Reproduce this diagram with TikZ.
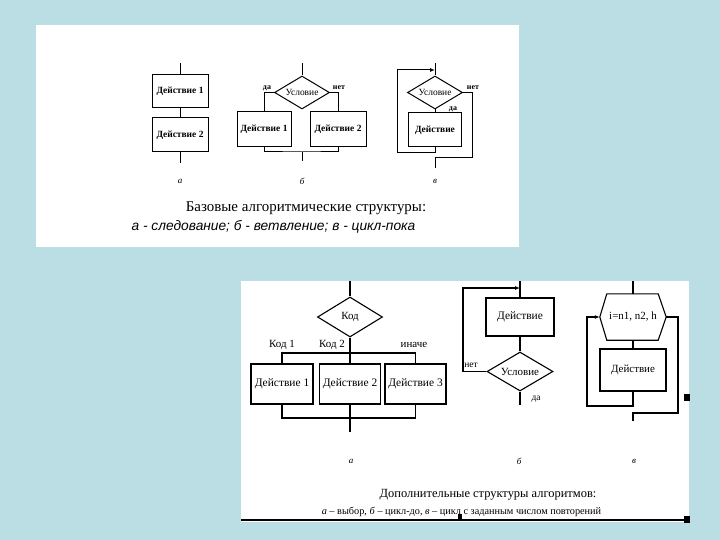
\documentclass[tikz,border=0pt]{standalone}
\usepackage{fontspec}
\setmainfont{Liberation Serif}
\newfontfamily\capsans{Liberation Sans}
\usetikzlibrary{shapes.geometric,arrows.meta,calc}
\definecolor{bgblue}{RGB}{186,222,228}
\begin{document}
\begin{tikzpicture}[x=1bp,y=-1bp,
  tline/.style={line width=1bp,draw=black},
  bline/.style={line width=1.1bp,draw=black},
  tbox/.style={tline,rectangle,inner sep=0pt,minimum width=56bp,minimum height=33bp,
    font=\fontsize{9.5}{10}\selectfont\bfseries},
  tdia/.style={tline,diamond,inner sep=0pt,aspect=1.6,minimum width=55bp,minimum height=33bp,
    font=\fontsize{9.5}{10}\selectfont},
  tsmall/.style={inner sep=0pt,font=\fontsize{8}{9}\selectfont\bfseries},
  sublab/.style={inner sep=0pt,font=\fontsize{9}{10}\selectfont\itshape},
  bbox/.style={bline,rectangle,inner sep=0pt,minimum height=40bp,
    font=\fontsize{11.5}{12}\selectfont},
  bdia/.style={bline,diamond,inner sep=0pt,aspect=1.6,
    font=\fontsize{11}{12}\selectfont},
  blab/.style={inner sep=0pt,font=\fontsize{11}{12}\selectfont},
  bsmall/.style={inner sep=0pt,font=\fontsize{9.5}{10}\selectfont},
  tip/.style={-{Latex[length=5pt,width=4pt]}}
]
% background and panels
\fill[bgblue] (0,0) rectangle (720,540);
\useasboundingbox (0,0) rectangle (720,540);
\fill[white] (36,25) rectangle (519,247);
\fill[white] (241,281) rectangle (689,522);

% ---------- top a: sequence ----------
\coordinate (a0) at (180,63);
\node[tbox] (a1) at (180,91.5) {Действие 1};
\node[tbox,minimum height=34bp] (a2) at (180,135) {Действие 2};
\coordinate (a3) at (180,163);
\draw[tline] (a0) -- (a1);
\draw[tline] (a1) -- (a2);
\draw[tline] (a2) -- (a3);

% ---------- top b: branching ----------
\coordinate (b0) at (302,63);
\node[tdia] (bd) at (302,92.5) {Условие};
\node[tbox,minimum width=54bp,minimum height=35bp] (b1) at (264,129.5) {Действие 1};
\node[tbox,minimum width=56bp,minimum height=35bp] (b2) at (338,129.5) {Действие 2};
\coordinate (bj) at (302,152);
\coordinate (b3) at (302,161);
\draw[tline] (b0) -- (bd);
\draw[tline] (bd.west) -| (b1.north);
\draw[tline] (bd.east) -| (b2.north);
\draw[tline] (b1.south) |- (bj) -| (b2.south);
\draw[tline] (bj) -- (b3);
\node[tsmall] (bda) at (267,88) {да};
\node[tsmall] (bnet) at (339,88) {нет};

% ---------- top c: while loop ----------
\coordinate (c0) at (435,63);
\node[tdia] (cd) at (435,92.5) {Условие};
\node[tbox,minimum width=53bp,minimum height=34bp] (c1) at (435,130) {Действие};
\coordinate (cr) at (472,158);
\coordinate (cj) at (435,158);
\coordinate (c3) at (435,168);
\coordinate (cb) at (435,153);
\coordinate (cl) at (397,70);
\coordinate (ctop) at (435,70);
\draw[tline] (c0) -- (cd);
\draw[tline] (cd) -- (c1);
\draw[tline] (cd.east) -| (cr) -- (cj) -- (c3);
\draw[tline,tip] (c1.south) -- (cb) -| (cl) -- (ctop);
\node[tsmall] (cnet) at (473,88) {нет};
\node[tsmall] (cda) at (453,109) {да};

% top sublabels
\node[sublab] (ta) at (180,181) {а};
\node[sublab] (tb) at (302,181) {б};
\node[sublab] (tc) at (435,181) {в};

% top captions
\node[inner sep=0pt,font=\fontsize{15}{16}\selectfont] (tcap1) at (306,208) {Базовые алгоритмические структуры:};
\node[inner sep=0pt,font=\capsans\fontsize{13.8}{15}\selectfont\itshape] (tcap2) at (273.5,227) {а - следование; б - ветвление; в - цикл-пока};

% ---------- bottom a: choice ----------
\coordinate (k0) at (350,281);
\node[bdia,minimum width=65bp,minimum height=40bp] (kd) at (350,317) {Код};
\node[bbox,minimum width=62bp] (k1) at (282,384) {Действие 1};
\node[bbox,minimum width=61bp] (k2) at (350,384) {Действие 2};
\node[bbox,minimum width=61bp] (k3) at (415.5,384) {Действие 3};
\coordinate (kbar) at (350,353);
\coordinate (kbj) at (350,418);
\coordinate (kout) at (350,432);
\draw[bline] (k0) -- (kd);
\draw[bline] (kd) -- (k2);
\draw[bline] (k1.north) |- (kbar) -| (k3.north);
\draw[bline] (k1.south) |- (kbj) -| (k3.south);
\draw[bline] (k2) -- (kout);
\node[blab] (kl1) at (282,345) {Код 1};
\node[blab] (kl2) at (332,345) {Код 2};
\node[blab] (kl3) at (414,345) {иначе};

% ---------- bottom b: do-while ----------
\coordinate (d0) at (520,281);
\node[bbox,minimum width=68bp,minimum height=38bp] (d1) at (520,317) {Действие};
\node[bdia,minimum width=66bp,minimum height=39bp] (dd) at (520,371.5) {Условие};
\coordinate (dl) at (463,288);
\coordinate (dtop) at (520,288);
\coordinate (dout) at (520,405);
\draw[bline] (d0) -- (d1);
\draw[bline] (d1) -- (dd);
\draw[bline,tip] (dd.west) -| (dl) -- (dtop);
\draw[bline] (dd) -- (dout);
\node[bsmall] (dnet) at (471,365) {нет};
\node[bsmall] (dda) at (536,399) {да};

% ---------- bottom c: counted loop ----------
\coordinate (h0) at (633,281);
\node[inner sep=0pt,minimum width=66bp,minimum height=46bp,font=\fontsize{11}{12}\selectfont] (hx) at (633,317) {i=n1, n2, h};
\draw[bline] (hx.west) -- ($(hx.north west)+(7,0)$) -- ($(hx.north east)+(-8,0)$) -- (hx.east)
  -- ($(hx.south east)+(-8,0)$) -- ($(hx.south west)+(7,0)$) -- cycle;
\node[bbox,minimum width=66bp,minimum height=42bp,font=\fontsize{11}{12}\selectfont] (h1) at (633,370) {Действие};
\coordinate (hb) at (633,406);
\coordinate (hl) at (587,317);
\coordinate (hr) at (678,413);
\coordinate (hj) at (633,413);
\coordinate (hout) at (633,421);
\draw[bline] (h0) -- (hx.north);
\draw[bline] (hx.south) -- (h1);
\draw[bline,tip] (h1.south) -- (hb) -| (hl) -- (hx.west);
\draw[bline] (hx.east) -| (hr) -- (hj) -- (hout);

% bottom sublabels
\node[sublab] (ba) at (351,461) {а};
\node[sublab] (bb) at (519,461) {б};
\node[sublab] (bc) at (634,461) {в};

% bottom captions
\node[inner sep=0pt,font=\fontsize{12.5}{14}\selectfont] (bcap1) at (488,495) {Дополнительные структуры алгоритмов:};
\node[inner sep=0pt,font=\fontsize{10.3}{12}\selectfont] (bcap2) at (461.5,512) {\textit{а} – выбор, \textit{б} – цикл-до, \textit{в} – цикл с заданным числом повторений};

% scan artefacts: bottom rule and marks
\draw[line width=2bp] (241,520) -- (689,520);
\fill[black] (684,394) rectangle (690,401);
\fill[black] (684,516) rectangle (690,523);
\fill[black] (458,514) rectangle (462,521);
\end{tikzpicture}
\end{document}
